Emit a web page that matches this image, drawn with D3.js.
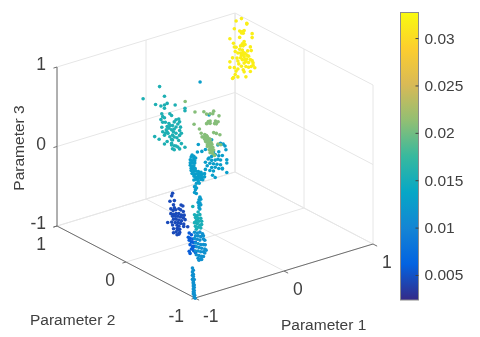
<!DOCTYPE html>
<html>
<head>
<meta charset="utf-8">
<script src="https://d3js.org/d3.v7.min.js"></script>
<style>
    html, body { margin: 0; background: #fff; }
    svg { display: block; filter: blur(0.4px); }
    text { font-family: "Liberation Sans", Arial, sans-serif; fill: #404040; }
</style>
</head>
<body>
<svg id="svgMain" width="480" height="337"></svg>
<script>
// each cluster: [parameter 1, parameter 3] pairs, parameter 2 and the colour value are per cluster
const yellowP2 = 0.7, yellowValue = 0.0316;
const yellowPoints = [[.78,1.11],[.84,1.12],[.90,1.04],[.90,1.03],[.76,1.02],[.82,.97],[.84,.95],[.85,.95],[.87,.96],[.84,.94],[.86,.93],[.96,.89],[.96,.84],[.71,.91],[.82,.89],[.75,.84],[.87,.82],[.85,.80],[.83,.78],[.86,.77],[.88,.78],[.76,.79],[.78,.78],[.94,.73],[.95,.68],[.77,.73],[.85,.72],[.86,.69],[.83,.69],[.88,.67],[.84,.66],[.86,.66],[.87,.63],[.83,.63],[.90,.64],[.92,.62],[.94,.57],[.88,.59],[.90,.59],[.89,.56],[.96,.55],[.87,.55],[.74,.66],[.71,.62],[.80,.60],[.79,.64],[.97,.49],[.97,.52],[.95,.48],[.92,.48],[.89,.50],[.86,.47],[.87,.44],[.94,.42],[.71,.55],[.76,.53],[.78,.48],[.77,.44],[.75,.41],[.74,.40],[.80,.40],[.89,.37],[.99,.45],[.82,.74],[.80,.70],[.91,.69],[.85,.60],[.81,.56],[.92,.54],[.84,.52],[.80,.50]];

const tealP2 = 0.5, tealValue = 0.0155;
const tealPoints = [[-.42,.63],[-.235,.72],[-.18,.58],[-.28,.51],[-.22,.47],[-.18,.47],[-.15,.48],[-.18,.43],[-.06,.43],[.05,.32],[.05,.35],[-.21,.37],[-.20,.33],[-.22,.30],[-.18,.31],[-.17,.25],[-.12,.34],[-.10,.31],[-.05,.24],[-.02,.24],[-.01,.20],[-.03,.18],[0,.13],[-.07,.22],[-.09,.18],[-.07,.13],[-.10,.13],[-.13,.16],[-.16,.15],[-.20,.14],[-.18,.09],[-.14,.10],[-.09,.06],[-.12,.05],[-.05,.07],[-.01,.03],[.01,.05],[-.02,-.03],[-.09,0],[-.10,-.06],[-.07,-.08],[-.09,-.11],[-.07,-.13],[-.03,-.11],[-.01,-.14],[.05,-.14],[.01,-.08],[-.15,0],[-.24,.06],[-.29,.11],[-.18,-.02],[-.21,.20],[-.15,.19],[-.12,.19],[-.05,.15],[-.13,.22],[-.17,.11],[-.10,.01],[-.07,.03],[-.04,.01],[-.01,.09],[-.20,.26],[-.15,.12],[-.08,.10],[-.10,-.04],[-.05,-.09]];

const greenP2 = 0.2, greenValue = 0.0208;
const greenPoints = [[-.18,.65],[-.07,.48],[.03,.45],[.06,.41],[.14,.42],[.20,.34],[.10,.40],[.13,.39],[.08,.31],[.06,.29],[.10,.31],[.10,.28],[.07,.29],[.16,.29],[.19,.27],[.15,.26],[.17,.25],[-.08,.33],[-.02,.25],[.14,.15],[.17,.13],[.21,.10],[0,.19],[.04,.16],[.06,.14],[.01,.14],[.05,.12],[.07,.12],[.04,.10],[.07,.08],[.10,.08],[.06,.06],[.09,.04],[.11,.04],[.07,.02],[.10,0],[.12,.01],[.07,0],[.10,-.03],[.13,-.03],[.09,-.05],[.12,-.07],[.14,-.07],[.10,-.09],[.13,-.11],[.15,-.14],[.19,-.01],[.22,-.03],[.09,.09],[.05,.07],[.12,-.05],[.08,.06],[.08,.02],[.11,-.01],[.11,-.05],[.12,-.09],[.03,.13],[.06,.10]];

const blueP2 = 0.1, blueValue = 0.0127;
const bluePoints = [[-.09,.91],[.01,.46],[.04,.14],[.14,.06],[.17,.04],[.19,.01],[.11,.05],[-.11,.13],[.20,-.04],[-.07,.03],[-.12,.04],[-.03,.04],[.06,-.02],[.12,-.04],[.04,-.07],[.08,-.06],[.12,-.09],[.16,-.10],[.01,-.08],[0,-.09],[.04,-.12],[.08,-.13],[.11,-.13],[.14,-.15],[.21,-.17],[.21,-.21],[-.03,-.12],[.02,-.15],[.06,-.17],[.10,-.19],[.14,-.21],[-.01,-.17],[.04,-.21],[.08,-.22],[.12,-.25],[.16,-.27],[-.03,-.21],[.02,-.24],[.06,-.26],[.21,-.33],[.16,-.26],[.05,-.31],[.08,-.35],
    [-.18,.02],[-.16,0],[-.19,0],[-.16,-.03],[-.14,-.03],[-.20,-.03],[-.18,-.05],[-.15,-.06],[-.20,-.07],[-.175,-.08],[-.15,-.09],[-.20,-.10],[-.18,-.12],[-.16,-.12],[-.19,-.14],[-.17,-.15],[-.145,-.16],[-.19,-.17],[-.16,-.19],[-.14,-.19],[-.18,-.21],[-.15,-.23],[-.13,-.23],[-.11,-.21],[-.10,-.24],[-.08,-.23],[-.16,-.25],[-.14,-.27],[-.11,-.27],[-.09,-.26],[-.07,-.26],[-.04,-.26],[-.14,-.30],[-.115,-.30],[-.09,-.29],[-.07,-.30],[-.04,-.30],[-.11,-.33],[-.08,-.32],[-.06,-.33],[-.16,-.30],[-.13,-.35],[-.10,-.36],[-.145,-.38],[-.13,-.41]];

const navyP2 = 0.15, navyValue = 0.0045;
const navyPoints = [[-.36,-.42],[-.37,-.45],[-.39,-.51],[-.34,-.52],[-.35,-.57],[-.34,-.61],[-.38,-.61],[-.355,-.64],[-.325,-.64],[-.29,-.64],[-.265,-.60],[-.245,-.62],[-.27,-.66],[-.24,-.69],[-.38,-.67],[-.35,-.69],[-.32,-.69],[-.29,-.70],[-.26,-.73],[-.23,-.74],[-.36,-.71],[-.33,-.72],[-.30,-.73],[-.27,-.75],[-.24,-.77],[-.22,-.80],[-.35,-.75],[-.32,-.76],[-.29,-.78],[-.26,-.80],[-.415,-.77],[-.37,-.78],[-.33,-.80],[-.30,-.81],[-.27,-.83],[-.235,-.85],[-.36,-.82],[-.31,-.84],[-.29,-.86],[-.235,-.88],[-.19,-.90],[-.35,-.87],[-.31,-.88],[-.28,-.90],[-.35,-.92],[-.32,-.92],[-.29,-.96],[-.31,-.96],[-.28,-.94],[-.30,-.90]];

// the tall column in front, split by colour from top to bottom
const columnP2 = -0.4;
const columnTopValue = 0.0125, columnTealValue = 0.0152, columnBlueValue = 0.0112, columnDarkValue = 0.0058;
const columnTopPoints = [[-.54,-.03],[-.53,-.07],[-.54,-.10],[-.52,-.12],[-.48,-.18],[-.49,-.21],[-.47,-.21],[-.50,-.24],[-.48,-.25],[-.49,-.28],[-.47,-.28],[-.49,-.31],[-.48,-.33]];
const columnTealPoints = [[-.56,-.27],[-.50,-.36],[-.54,-.38],[-.51,-.40],[-.48,-.40],[-.53,-.42],[-.50,-.44],[-.47,-.45],[-.52,-.46],[-.49,-.48],[-.46,-.49],[-.54,-.48],[-.51,-.50],[-.48,-.53],[-.46,-.53],[-.53,-.53],[-.50,-.55],[-.47,-.57],[-.52,-.57]];
const columnBluePoints = [[-.54,-.60],[-.51,-.62],[-.48,-.62],[-.45,-.65],[-.44,-.68],[-.53,-.65],[-.50,-.66],[-.47,-.68],[-.54,-.68],[-.51,-.70],[-.48,-.72],[-.44,-.72],[-.425,-.74],[-.53,-.74],[-.50,-.76],[-.47,-.78],[-.44,-.79],[-.42,-.80],[-.52,-.79],[-.49,-.81],[-.46,-.83],[-.425,-.85],[-.41,-.87],[-.53,-.84],[-.50,-.85],[-.47,-.87],[-.44,-.88],[-.425,-.90],[-.52,-.89],[-.49,-.91],[-.46,-.93],[-.44,-.94],[-.50,-.94],[-.47,-.96],[-.49,-.97],[-.46,-.97]];
const columnDarkPoints = [[-.60,-.59],[-.575,-.62],[-.61,-.64],[-.59,-.66],[-.56,-.68],[-.60,-.68],[-.575,-.71],[-.55,-.73],[-.59,-.74],[-.56,-.77],[-.54,-.78],[-.575,-.80],[-.55,-.83],[-.60,-.82],[-.59,-.85],[-.56,-.79],[-.53,-.73],[-.53,-.86]];

const cornerP2 = -0.95, cornerValue = 0.0112;
const cornerPoints = [[-.99,-.65],[-.98,-.68],[-.99,-.70],[-.98,-.73],[-.99,-.74],[-.98,-.76],[-.99,-.79],[-.97,-.80],[-.98,-.81],[-.98,-.83],[-.98,-.85],[-.97,-.87],[-.98,-.88],[-.97,-.90],[-.98,-.915],[-.97,-.94],[-.98,-.95],[-.97,-.97],[-.98,-.98],[-.965,-1.0],[-.97,-1.02],[-.96,-1.04]];

const axisTicks = [-1, 0, 1];
const colorTicks = [0.005, 0.01, 0.015, 0.02, 0.025, 0.03];
const colorMin = 0.00236, colorMax = 0.0327;
const parula = ["#352a87", "#0363e1", "#1485d4", "#06a7c6", "#38b99e", "#92bf73", "#d9ba56", "#fcce2e", "#f9fb0e"];

const clusters = [
    { p2: cornerP2, value: cornerValue, points: cornerPoints },
    { p2: columnP2, value: columnDarkValue, points: columnDarkPoints },
    { p2: columnP2, value: columnBlueValue, points: columnBluePoints },
    { p2: columnP2, value: columnTealValue, points: columnTealPoints },
    { p2: columnP2, value: columnTopValue, points: columnTopPoints },
    { p2: navyP2, value: navyValue, points: navyPoints },
    { p2: blueP2, value: blueValue, points: bluePoints },
    { p2: greenP2, value: greenValue, points: greenPoints },
    { p2: tealP2, value: tealValue, points: tealPoints },
    { p2: yellowP2, value: yellowValue, points: yellowPoints }
];

const svg = d3.select("#svgMain");

// orthographic view: each parameter adds its own x and y shift on screen
const p1X = d3.scaleLinear().domain([-1, 1]).range([0, 178]);
const p1Y = d3.scaleLinear().domain([-1, 1]).range([0, -54]);
const p2X = d3.scaleLinear().domain([-1, 1]).range([0, -138]);
const p2Y = d3.scaleLinear().domain([-1, 1]).range([0, -72]);
const p3Y = d3.scaleLinear().domain([-1, 1]).range([0, -159]);

const project = (a, b, c) => [195 + p1X(a) + p2X(b), 298 + p1Y(a) + p2Y(b) + p3Y(c)];

const color = d3.scaleLinear()
    .domain(parula.map((d, i) => colorMin + (colorMax - colorMin) * i / (parula.length - 1)))
    .range(parula);

const drawLine = (g, from, to, stroke) => {
    const s = project(...from), e = project(...to);
    g.append("line")
        .attr("x1", s[0]).attr("y1", s[1])
        .attr("x2", e[0]).attr("y2", e[1])
        .attr("stroke", stroke)
        .attr("stroke-width", 1);
};

// back walls and floor
const grid = svg.append("g");
const gridColor = "#e6e6e6";
axisTicks.forEach(t => {
    drawLine(grid, [t, 1, -1], [t, 1, 1], gridColor);
    drawLine(grid, [t, -1, -1], [t, 1, -1], gridColor);
    drawLine(grid, [1, t, -1], [1, t, 1], gridColor);
    drawLine(grid, [-1, t, -1], [1, t, -1], gridColor);
    drawLine(grid, [-1, 1, t], [1, 1, t], gridColor);
    drawLine(grid, [1, -1, t], [1, 1, t], gridColor);
});

// axis lines
const axes = svg.append("g");
const axisColor = "#6e6e6e";
drawLine(axes, [-1, 1, -1], [-1, 1, 1], axisColor);
drawLine(axes, [-1, -1, -1], [-1, 1, -1], axisColor);
drawLine(axes, [-1, -1, -1], [1, -1, -1], axisColor);
axisTicks.forEach(t => {
    drawLine(axes, [-1, 1, t], [-1.04, 1, t], axisColor);
    drawLine(axes, [-1.04, t, -1], [-1, t, -1], axisColor);
    drawLine(axes, [t, -1, -1], [t, -1.06, -1], axisColor);
});

// scatter
const flat = clusters.flatMap(c => c.points.map(p => ({ p1: p[0], p2: c.p2, p3: p[1], value: c.value })));
svg.append("g")
    .selectAll("circle")
    .data(flat)
    .join("circle")
    .attr("cx", d => project(d.p1, d.p2, d.p3)[0])
    .attr("cy", d => project(d.p1, d.p2, d.p3)[1])
    .attr("r", 1.8)
    .attr("fill", d => color(d.value));

// tick labels
const tickSize = 17.5;
const zTicks = svg.append("g").attr("font-size", tickSize).attr("text-anchor", "end");
zTicks.selectAll("text").data(axisTicks).join("text")
    .attr("x", d => project(-1, 1, d)[0] - 11)
    .attr("y", d => project(-1, 1, d)[1] + 3)
    .text(d => d);
const p2Ticks = svg.append("g").attr("font-size", tickSize).attr("text-anchor", "end");
p2Ticks.selectAll("text").data(axisTicks).join("text")
    .attr("x", d => project(-1, d, -1)[0] - 11)
    .attr("y", d => project(-1, d, -1)[1] + 24)
    .text(d => d);
const p1Ticks = svg.append("g").attr("font-size", tickSize).attr("text-anchor", "start");
p1Ticks.selectAll("text").data(axisTicks).join("text")
    .attr("x", d => project(d, -1, -1)[0] + (d < 0 ? 8 : 9))
    .attr("y", d => project(d, -1, -1)[1] + 24)
    .text(d => d);

// axis titles
svg.append("text").attr("x", 281).attr("y", 330).attr("font-size", 15.5).text("Parameter 1");
svg.append("text").attr("x", 30).attr("y", 325).attr("font-size", 15.5).text("Parameter 2");
svg.append("text")
    .attr("transform", "translate(24,148) rotate(-90)")
    .attr("text-anchor", "middle")
    .attr("font-size", 15.5)
    .text("Parameter 3");

// colorbar
const barY = d3.scaleLinear().domain([colorMin, colorMax]).range([300, 12.5]);
const defs = svg.append("defs");
const gradient = defs.append("linearGradient")
    .attr("id", "parula")
    .attr("x1", 0).attr("x2", 0).attr("y1", 1).attr("y2", 0);
gradient.selectAll("stop").data(parula).join("stop")
    .attr("offset", (d, i) => i / (parula.length - 1))
    .attr("stop-color", d => d);

svg.append("rect")
    .attr("x", 400.5).attr("y", barY(colorMax))
    .attr("width", 18).attr("height", barY(colorMin) - barY(colorMax))
    .attr("fill", "url(#parula)")
    .attr("stroke", "#8c8c8c")
    .attr("stroke-width", 1);

const barAxis = d3.axisRight(barY)
    .tickValues(colorTicks)
    .tickFormat(d => String(d))
    .tickSizeInner(-3)
    .tickSizeOuter(0)
    .tickPadding(6);
const barG = svg.append("g").attr("transform", "translate(418.5,0)").call(barAxis);
barG.select(".domain").remove();
barG.selectAll(".tick line").attr("stroke", "#404040");
barG.selectAll(".tick text")
    .attr("font-size", 15.5)
    .attr("font-family", "Liberation Sans, Arial, sans-serif")
    .attr("fill", "#404040");
</script>
</body>
</html>
